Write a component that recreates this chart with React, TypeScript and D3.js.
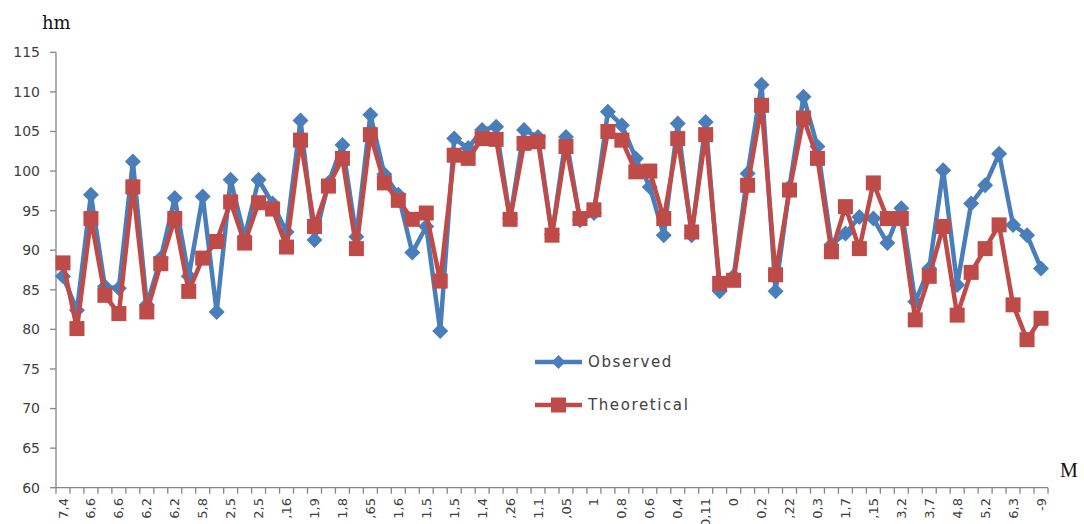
import React from "react";
import * as d3 from "d3";

const categories: string[] = Array.from({ length: 71 }, (_, i) => String(i));
const tickLabels: string[] = [
  "7,4", "6,6", "6,6", "6,2", "6,2", "5,8", "2,5", "2,5", ",16", "1,9", "1,8",
  ",65", "1,6", "1,5", "1,5", "1,4", ",26", "1,1", ",05", "1", "0,8", "0,6", "0,4",
  "0,11", "0", "0,2", ",22", "0,3", "1,7", ",15", "3,2", "3,7", "4,8", "5,2", "6,3", "-9",
];
const observed: number[] = [
  86.7, 82.4, 97.0, 85.4, 85.2, 101.2, 83.1, 89.0, 96.6, 86.7,
  96.8, 82.2, 98.9, 91.7, 98.9, 95.9, 92.3, 106.4, 91.3, 98.5,
  103.3, 91.7, 107.1, 99.6, 97.0, 89.7, 93.0, 79.8, 104.1, 102.9,
  105.2, 105.6, 94.0, 105.2, 104.3, 92.0, 104.3, 93.8, 94.7, 107.5,
  105.8, 101.6, 98.0, 91.9, 106.0, 91.9, 106.2, 84.8, 86.7, 99.7,
  110.9, 84.8, 98.0, 109.4, 103.1, 90.7, 92.1, 94.2, 94.0, 90.9,
  95.3, 83.5, 87.7, 100.1, 85.6, 95.9, 98.2, 102.2, 93.2, 91.9, 87.7,
];
const theoretical: number[] = [
  88.4, 80.1, 94.0, 84.3, 82.0, 98.0, 82.2, 88.3, 94.0, 84.8,
  89.0, 91.1, 96.1, 90.9, 96.0, 95.2, 90.4, 103.9, 93.0, 98.1,
  101.6, 90.2, 104.6, 98.5, 96.3, 93.9, 94.7, 86.1, 102.0, 101.6,
  104.1, 104.0, 93.9, 103.5, 103.7, 91.9, 103.1, 94.0, 95.1, 105.0,
  103.9, 99.9, 100.0, 94.0, 104.1, 92.3, 104.6, 85.8, 86.2, 98.2,
  108.3, 86.9, 97.6, 106.7, 101.6, 89.8, 95.5, 90.2, 98.5, 94.0,
  94.0, 81.2, 86.7, 93.0, 81.8, 87.2, 90.2, 93.2, 83.1, 78.7, 81.4,
];
const yTicks: number[] = [60, 65, 70, 75, 80, 85, 90, 95, 100, 105, 110, 115];

const BLUE = "#4A7EBB";
const RED = "#BE4B48";
const AXIS = "#868686";
const TEXT = "#404040";

export default function App() {
  const W = 1084, H = 524;
  const x0 = 56, x1 = 1048, yTop = 52.3, yBot = 487.7;
  const x = d3.scaleBand<string>().domain(categories).range([x0, x1]).padding(0);
  const y = d3.scaleLinear().domain([60, 115]).range([yBot, yTop]);
  const cx = (i: number) => (x(categories[i]) as number) + x.bandwidth() / 2;
  const line = d3.line<number>().x((_, i) => cx(i)).y((d) => y(d));
  const font = "'DejaVu Sans', Verdana, sans-serif";
  const diamond = (px: number, py: number, r: number) =>
    `M${px},${py - r}L${px + r},${py}L${px},${py + r}L${px - r},${py}Z`;

  return (
    <svg width={W} height={H} style={{ position: "absolute", left: 0, top: 0, background: "#fff" }}>
      <rect x={0} y={0} width={W} height={H} fill="#fff" />
      {/* y axis */}
      <line x1={x0} x2={x0} y1={yTop} y2={yBot} stroke={AXIS} strokeWidth={1.3} />
      {yTicks.map((t) => (
        <g key={t}>
          <line x1={x0 - 6} x2={x0} y1={y(t)} y2={y(t)} stroke={AXIS} strokeWidth={1.3} />
          <text x={40} y={y(t)} dy="0.35em" textAnchor="end" fontFamily={font} fontSize={14} fill={TEXT}>
            {t}
          </text>
        </g>
      ))}
      {/* x axis */}
      <line x1={x0} x2={x1} y1={yBot} y2={yBot} stroke={AXIS} strokeWidth={1.3} />
      {d3.range(categories.length + 1).map((i) => {
        const xx = i < categories.length ? (x(categories[i]) as number) : x1;
        return <line key={i} x1={xx} x2={xx} y1={yBot} y2={yBot + 6} stroke={AXIS} strokeWidth={1.3} />;
      })}
      {tickLabels.map((lab, k) => {
        const px = cx(k * 2);
        const py = 498;
        return (
          <text
            key={k}
            x={px}
            y={py}
            dy="0.35em"
            textAnchor="end"
            transform={`rotate(-90 ${px} ${py})`}
            fontFamily={font}
            fontSize={13}
            fill={TEXT}
          >
            {lab}
          </text>
        );
      })}
      {/* axis titles */}
      <text x={42} y={29} fontFamily="'DejaVu Serif', 'Liberation Serif', serif" fontSize={18} fill="#111">hm</text>
      <text x={1060} y={477} fontFamily="'Liberation Serif', 'DejaVu Serif', serif" fontSize={20} fill="#111">M</text>
      {/* observed */}
      <path d={line(observed) || ""} fill="none" stroke={BLUE} strokeWidth={4.5} strokeLinejoin="round" />
      {observed.map((v, i) => (
        <path key={"o" + i} d={diamond(cx(i), y(v), 8)} fill={BLUE} />
      ))}
      {/* theoretical */}
      <path d={line(theoretical) || ""} fill="none" stroke={RED} strokeWidth={4.5} strokeLinejoin="round" />
      {theoretical.map((v, i) => (
        <rect key={"t" + i} x={cx(i) - 7.5} y={y(v) - 7.5} width={15} height={15} fill={RED} />
      ))}
      {/* legend */}
      <line x1={535} x2={582} y1={362} y2={362} stroke={BLUE} strokeWidth={4.5} />
      <path d={diamond(558.5, 362, 7)} fill={BLUE} />
      <text x={588} y={362} dy="0.35em" fontFamily={font} fontSize={15} letterSpacing={1.6} fill={TEXT}>Observed</text>
      <line x1={535} x2={582} y1={405} y2={405} stroke={RED} strokeWidth={4.5} />
      <rect x={551} y={397.5} width={15} height={15} fill={RED} />
      <text x={588} y={405} dy="0.35em" fontFamily={font} fontSize={15} letterSpacing={1.6} fill={TEXT}>Theoretical</text>
    </svg>
  );
}
